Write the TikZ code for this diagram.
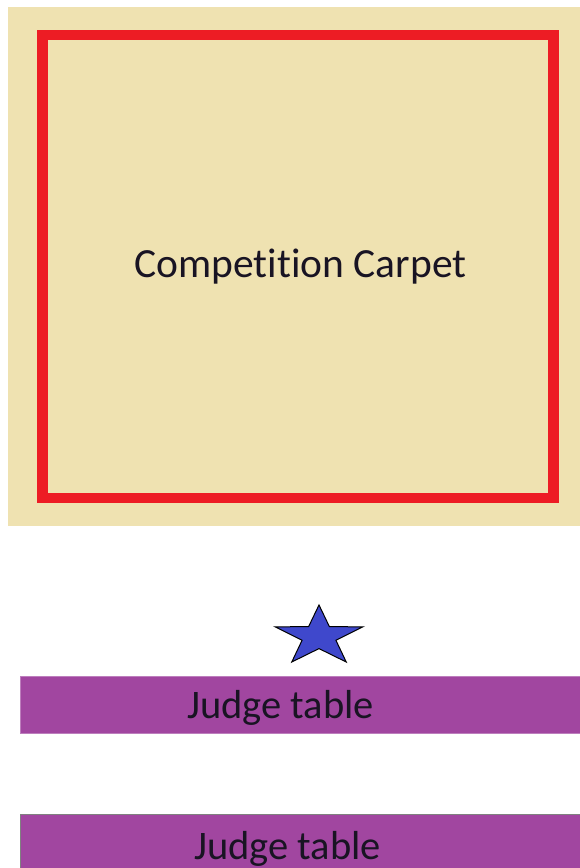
\documentclass[tikz,border=0pt]{standalone}
\usepackage{fontspec}
\setmainfont[Ligatures=NoCommon]{Carlito}
\definecolor{carpetbg}{RGB}{239,226,177}
\definecolor{carpetred}{RGB}{237,28,36}
\definecolor{starblue}{RGB}{63,72,204}
\definecolor{judgepurple}{RGB}{161,70,160}
\definecolor{textdark}{RGB}{25,20,35}
\begin{document}
\begin{tikzpicture}[x=1pt,y=-1pt,
  tablebox/.style={fill=judgepurple,minimum width=560pt,minimum height=57pt,anchor=north west,inner sep=0pt},
  labeltext/.style={font=\fontsize{40.5}{44}\selectfont,text=textdark,anchor=base,inner sep=0pt}]
\useasboundingbox (0,0) rectangle (580,868);
\clip (0,0) rectangle (580,868);
\fill[carpetbg] (8,7) rectangle (582,526);
\draw[carpetred,line width=10.5pt] (42.5,35) rectangle (553.5,498);
\node[labeltext,font=\fontsize{41.5}{46}\selectfont] (carpet) at (300.5,277) {Competition Carpet};
% star
\begin{scope}[shift={(319,636.5)},xscale=1.47]
\draw[fill=starblue,draw=black,line width=1pt]
  (90:-31.5) -- (126:-12.1) -- (162:-31.5) -- (198:-12.1) -- (234:-31.5) -- (270:-12.1)
  -- (306:-31.5) -- (342:-12.1) -- (18:-31.5) -- (54:-12.1) -- cycle;
\end{scope}
\node[tablebox,draw=judgepurple!70!white,line width=0.8pt] (t1) at (20,675.5) {};
\node[labeltext] (l1) at (280.5,718) {Judge table};
\node[tablebox,draw=gray,line width=1.2pt,minimum height=70pt] (t2) at (20,813.5) {};
\node[labeltext] (l2) at (287.5,859) {Judge table};
\end{tikzpicture}
\end{document}
